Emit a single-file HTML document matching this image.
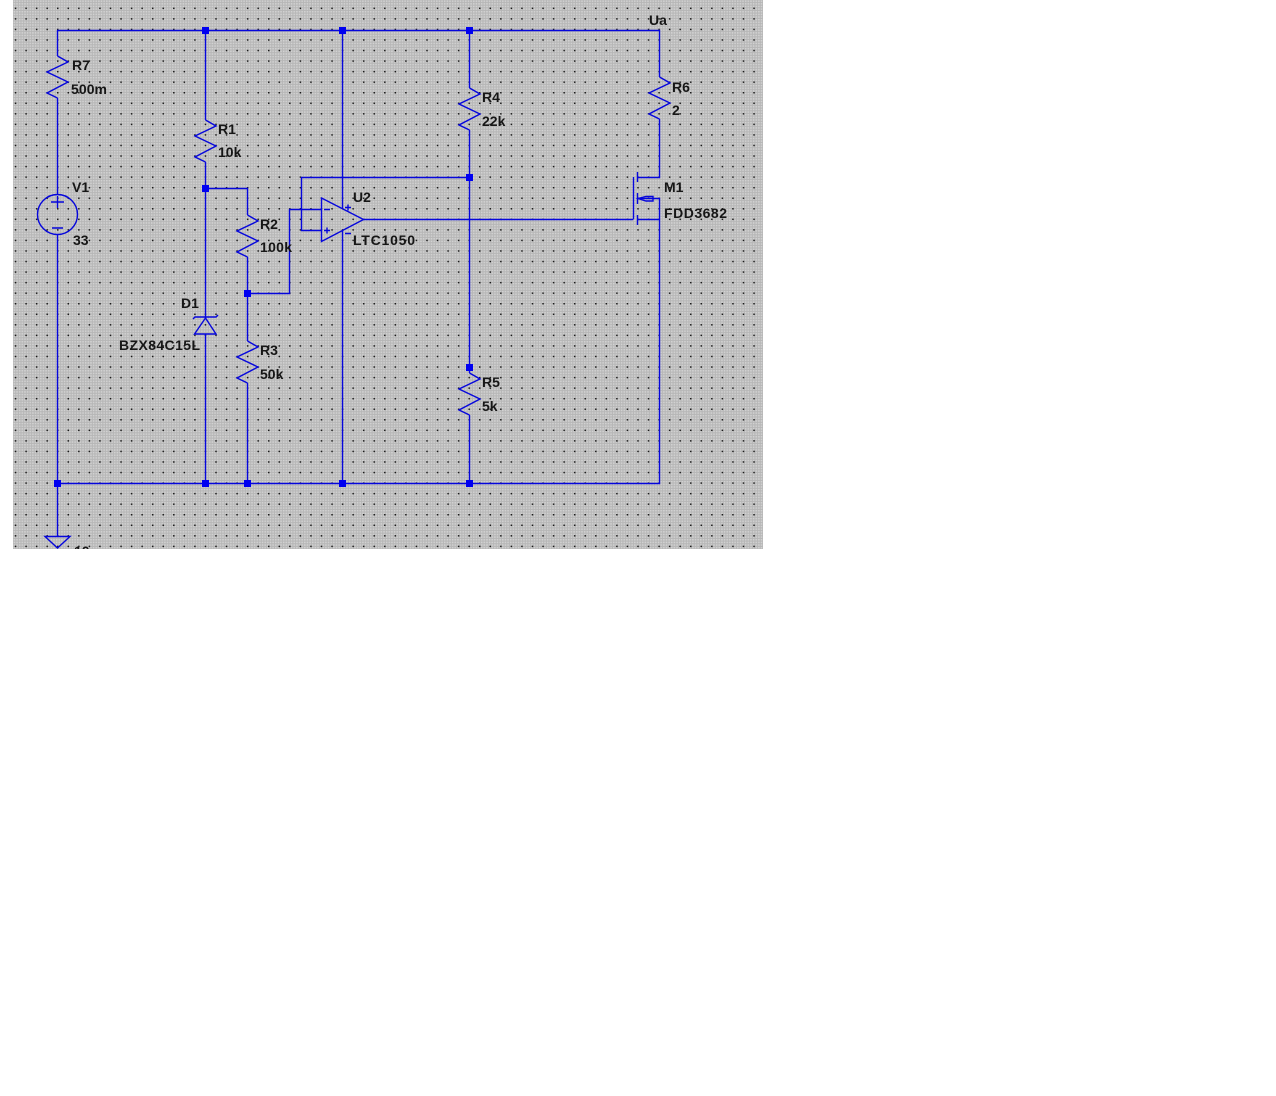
<!DOCTYPE html>
<html><head><meta charset="utf-8"><style>
html,body{margin:0;padding:0;background:#fff}
svg{display:block}
text{font-family:"Liberation Sans",Arial,sans-serif;font-weight:bold;font-size:14px;fill:#161616}
</style></head><body>
<svg width="1276" height="1096" viewBox="0 0 1276 1096" xmlns="http://www.w3.org/2000/svg">
<defs>
<pattern id="fine" width="2.64" height="2.64" patternUnits="userSpaceOnUse">
<rect width="2.64" height="2.64" fill="#b6b6b6"/><rect x="0.4" y="0.4" width="1.6" height="1.6" fill="#d2d2d2"/>
</pattern>
<pattern id="dots" x="14.8" y="7.6" width="10.55" height="10.55" patternUnits="userSpaceOnUse">
<rect width="1.5" height="1.5" fill="#1a1a1a"/>
</pattern>
<clipPath id="c"><rect x="13" y="0" width="750" height="549"/></clipPath>
</defs>
<g clip-path="url(#c)">
<rect x="13" y="0" width="750" height="549" fill="url(#fine)"/>
<rect x="13" y="0" width="750" height="549" fill="url(#dots)"/>
<g fill="none" stroke="#0606dc" stroke-width="1.4">
<path d="M57.5 56V30.5H659.5V77M57.5 98V195M57.5 234V537M57.5 483.5H659.5V198.5H637"/>
<path d="M205.5 30V120M205.5 162V318M205.5 334V483M205.5 188.5H247.5V215M247.5 257V341M247.5 383V483"/>
<path d="M342.5 30V208M342.5 230V483M469.5 30V88M469.5 130V373M469.5 415V483"/>
<path d="M659.5 119V177.5H637M637 219.5H659.5"/>
<path d="M247 293.5H289.5V209.5H322M469 177.5H301.5V230.5H322M363 219.5H633"/>
<path d="M57.5 56L68 62L47 72L68 82L47 93L57.5 98"/>
<path d="M205.5 120L216 126L195 136L216 146L195 157L205.5 162"/>
<path d="M469.5 88L480 94L459 104L480 114L459 125L469.5 130"/>
<path d="M659.5 77L670 83L649 93L670 103L649 114L659.5 119"/>
<path d="M247.5 215L258 221L237 231L258 241L237 252L247.5 257"/>
<path d="M247.5 341L258 347L237 357L258 367L237 378L247.5 383"/>
<path d="M469.5 373L480 379L459 389L480 399L459 410L469.5 415"/>
<circle cx="57.5" cy="214.5" r="20"/>
<path d="M51 202H64M57.5 196V208M52 228H63"/>
<path d="M45 536.5H70L57.5 548Z"/>
<path d="M321.5 198V241.5L363.5 219.5Z"/>
<path d="M324 209.5H330M324 230.5H330M327 227.5V233.5M345 207.5H351M348 204.5V210.5M345 233.5H351"/>
<path d="M633.5 177V219.5M637.5 172V182M637.5 193V204M637.5 215V225"/>
<path d="M638 198.5L646 196.5H653V201H646Z"/>
<path d="M193 319L195 317H216L218 315M205.5 318L216 334H194.5Z"/>
</g>
<g fill="#0000f0">
<rect x="202" y="27" width="7" height="7"/><rect x="339" y="27" width="7" height="7"/><rect x="466" y="27" width="7" height="7"/>
<rect x="202" y="185" width="7" height="7"/><rect x="466" y="174" width="7" height="7"/><rect x="244" y="290" width="7" height="7"/>
<rect x="466" y="364" width="7" height="7"/><rect x="54" y="480" width="7" height="7"/><rect x="202" y="480" width="7" height="7"/>
<rect x="244" y="480" width="7" height="7"/><rect x="339" y="480" width="7" height="7"/><rect x="466" y="480" width="7" height="7"/>
</g>
<text x="649" y="25">Ua</text>
<text x="72" y="70">R7</text><text x="71" y="94" textLength="36">500m</text>
<text x="72" y="192">V1</text><text x="73" y="245">33</text>
<text x="218" y="134">R1</text><text x="218" y="157">10k</text>
<text x="260" y="229">R2</text><text x="260" y="252" textLength="32">100k</text>
<text x="260" y="355">R3</text><text x="260" y="379">50k</text>
<text x="181" y="308">D1</text><text x="119" y="350" textLength="81">BZX84C15L</text>
<text x="353" y="202">U2</text><text x="353" y="245" textLength="62">LTC1050</text>
<text x="482" y="102">R4</text><text x="482" y="126">22k</text>
<text x="482" y="387">R5</text><text x="482" y="411">5k</text>
<text x="672" y="92">R6</text><text x="672" y="115">2</text>
<text x="664" y="192">M1</text><text x="664" y="218" textLength="63">FDD3682</text>
<text x="74" y="556">10</text>
</g>
</svg>
</body></html>
